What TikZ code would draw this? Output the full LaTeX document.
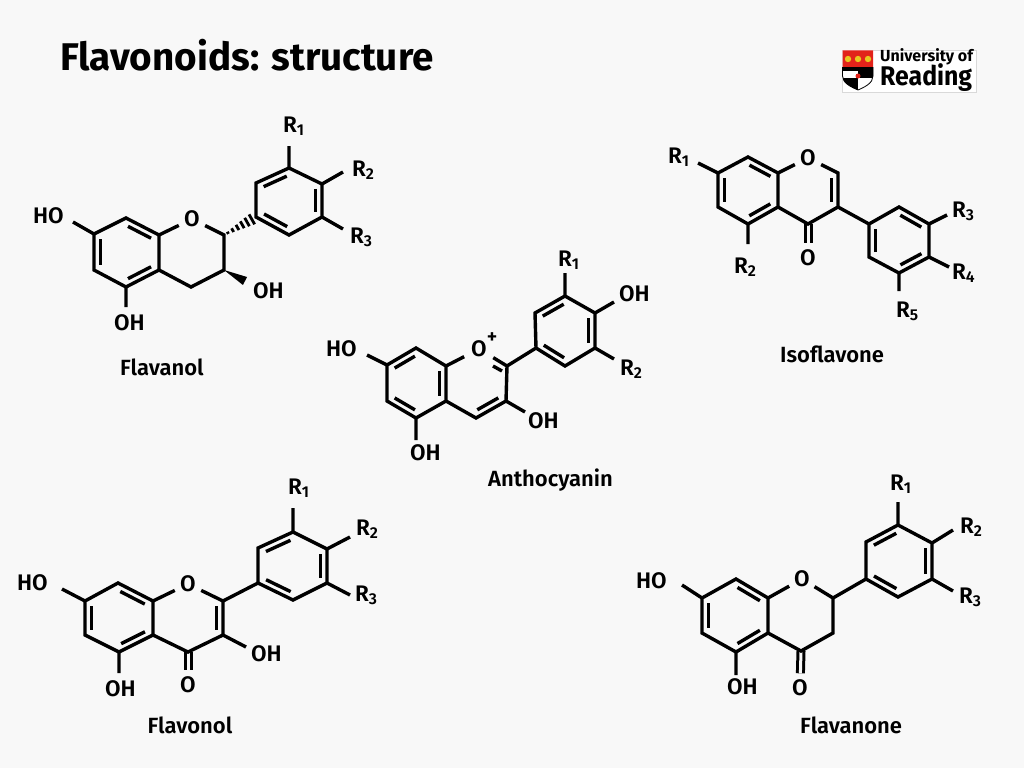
\documentclass[tikz,border=0pt]{standalone}
\usepackage{fontspec}
\setmainfont{Fira Sans}
\newfontfamily\medfont{Fira Sans SemiBold}
\usetikzlibrary{calc}
\definecolor{paper}{HTML}{F8F8F8}
\definecolor{shieldred}{HTML}{E2231A}
\definecolor{shieldgold}{HTML}{E8C820}
\tikzset{
  bond/.style={line width=3.4pt,black},
  dblbond/.style={line width=3pt,black,double=paper,double distance=3pt},
  atom/.style={circle,inner sep=0pt,minimum size=29pt,font=\fontsize{22.5}{22.5}\medfont},
  lab/.style={anchor=base west,inner sep=0pt,xshift=-1.2pt,font=\fontsize{22.5}{22.5}\medfont},
  molname/.style={anchor=base west,inner sep=0pt,font=\fontsize{22}{22}\medfont},
}
% inner line of a double bond, on the right of a -> b as seen on the page
\newcommand{\inbond}[2]{\draw[bond] ($(#1)!.15!(#2)!-6.5pt!90:(#2)$) -- ($(#2)!.15!(#1)!6.5pt!90:(#1)$);}
\newcommand{\Ra}[1]{R\textsubscript{#1}}
\begin{document}
\begin{tikzpicture}[x=1pt,y=-1pt]
  \fill[paper] (0,0) rectangle (1024,768);
  \useasboundingbox (0,0) rectangle (1024,768);

  \node[anchor=base west,inner sep=0pt,font=\fontsize{38.6}{38.6}\selectfont\bfseries] (title) at (60,70.5) {Flavonoids: structure};

  % logo
  \draw[fill=white,draw=black!15,line width=.5pt] (842,50) rectangle (976,92);
  \begin{scope}
    \clip (842.5,50.5) -- (873,50.5) -- (873,76) .. controls (873,83) and (865,87) .. (858,90) .. controls (851,87) and (842.5,83) .. (842.5,76) -- cycle;
    \fill[white] (842,50) rectangle (874,91);
    \fill[shieldred] (842,50) rectangle (874,67);
    \fill[black] (842,67) rectangle (874,71);
    \fill[black] (858,71) rectangle (874,78);
    \fill[black] (842,78) rectangle (858,91);
  \end{scope}
  \draw[black,line width=.8pt] (842.5,67) -- (842.5,76) .. controls (842.5,83) and (851,87) .. (858,90) .. controls (865,87) and (873,83) .. (873,76) -- (873,67);
  \foreach \x in {848,858,868} \fill[shieldgold] (\x,59) circle (3.2pt);
  \fill[shieldred] (858,76) circle (2.5pt);
  \node[anchor=base west,inner sep=0pt,font=\fontsize{16}{16}\selectfont\bfseries] (logoa) at (880,62) {University of};
  \node[anchor=base west,inner sep=0pt,xscale=.92,font=\fontsize{27}{27}\selectfont\bfseries] (logob) at (880,85) {Reading};

  % flavanol
  \foreach \n/\x/\y in {fa7/94/234,fa8/126/218,fa8a/159/235,fa4a/159/270,fa5/126/287,fa6/94/270,
    fa2/224/235,fa3/224/270,fa4/191/287,
    fb1/256/217,fb2/256/183,fb3/289/168,fb4/322/184,fb5/322/217,fb6/289/235,
    fe1/73/222,fe2/126/307,fe3/289/146,fe4/343/172,fe5/343/229,fe6/245/281}
    \coordinate (\n) at (\x,\y);
  \node[atom] (fao) at (192,219) {O};
  \draw[bond] (fa7) -- (fa8) -- (fa8a) -- (fa4a) -- (fa5) -- (fa6) -- cycle;
  \draw[bond] (fa8a) -- (fao) -- (fa2) -- (fa3) -- (fa4) -- (fa4a);
  \draw[bond] (fb1) -- (fb2) -- (fb3) -- (fb4) -- (fb5) -- (fb6) -- cycle;
  \inbond{fa6}{fa7} \inbond{fa8}{fa8a} \inbond{fa4a}{fa5}
  \inbond{fb2}{fb3} \inbond{fb4}{fb5} \inbond{fb6}{fb1}
  \draw[bond] (fa7) -- (fe1) (fa5) -- (fe2) (fb3) -- (fe3) (fb4) -- (fe4) (fb5) -- (fe5);
  % hashed and solid wedge
  \foreach \t/\w in {.12/1.2,.27/2.1,.42/3,.57/3.9,.72/4.8,.87/5.7}
    \draw[line width=2.8pt] ($(fa2)!\t!(fb1)!\w pt!90:(fb1)$) -- ($(fa2)!\t!(fb1)!\w pt!-90:(fb1)$);
  \fill (fa3) -- ($(fe6)!4.5pt!90:(fa3)$) -- ($(fe6)!4.5pt!-90:(fa3)$) -- cycle;
  \node[lab] (fr1) at (284,132) {\Ra{1}};
  \node[lab] (fr2) at (353,176) {\Ra{2}};
  \node[lab] (fr3) at (351,243) {\Ra{3}};
  \node[lab] (fho) at (34,223) {HO};
  \node[lab] (foh1) at (115,330) {OH};
  \node[lab] (foh2) at (254,298) {OH};
  \node[molname] (fname) at (120,375) {Flavanol};

  % anthocyanin
  \foreach \n/\x/\y in {ac7/387/365,ac8/416/348,ac8a/446/366,ac4a/446/401,ac5/416/418,ac6/387/401,
    ac2/507/366,ac3/506/401,ac4/476/418,
    ab1/536/348,ab2/535/313,ab3/565/296,ab4/595/313,ab5/595/348,ab6/565/366,
    ae1/367/355,ae2/416/440,ae3/565/273,ae4/614/302,ae5/614/359,ae6/525/412,
    ad1/493/366,ad2/502/371}
    \coordinate (\n) at (\x,\y);
  \node[atom,minimum size=33pt] (aco) at (479,349) {O};
  \node[lab,anchor=center,xshift=1.2pt,font=\fontsize{20}{20}\medfont] (acp) at (492,338) {+};
  \draw[bond] (ac7) -- (ac8) -- (ac8a) -- (ac4a) -- (ac5) -- (ac6) -- cycle;
  \draw[bond] (ac8a) -- (aco) -- (ac2) -- (ac3) -- (ac4) -- (ac4a);
  \draw[bond] (ab1) -- (ab2) -- (ab3) -- (ab4) -- (ab5) -- (ab6) -- cycle;
  \inbond{ac7}{ac8} \inbond{ac8a}{ac4a} \inbond{ac5}{ac6} \inbond{ac3}{ac4}
  \inbond{ab2}{ab3} \inbond{ab4}{ab5} \inbond{ab6}{ab1}
  \draw[bond] (ad1) -- (ad2);
  \draw[bond] (ac2) -- (ab1) (ac7) -- (ae1) (ac5) -- (ae2) (ab3) -- (ae3) (ab4) -- (ae4) (ab5) -- (ae5) (ac3) -- (ae6);
  \node[lab] (ahoa) at (327,356) {HO};
  \node[lab] (aoh1) at (411,460) {OH};
  \node[lab] (aoh2) at (529,428) {OH};
  \node[lab] (aoh3) at (620,301) {OH};
  \node[lab] (ar1) at (559,266) {\Ra{1}};
  \node[lab] (ar2) at (621,375) {\Ra{2}};
  \node[molname] (aname) at (488,486) {Anthocyanin};

  % isoflavone
  \foreach \n/\x/\y in {ia7/718/173,ia8/748/157,ia8a/778/173,ia4a/778/207,ia5/748/224,ia6/718/207,
    ia2/838/173,ia3/838/207,ia4/808/224,
    ib1/869/224,ib2/899/207,ib3/929/224,ib4/929/257,ib5/899/273,ib6/869/257,
    ie1/698/163,ie2/748/244,ie3/947/215,ie4/949/267,ie5/899/291}
    \coordinate (\n) at (\x,\y);
  \node[atom] (iao) at (808,158) {O};
  \node[atom] (ico) at (808,258) {O};
  \draw[dblbond] (ia4) -- (ico);
  \draw[bond] (ia7) -- (ia8) -- (ia8a) -- (ia4a) -- (ia5) -- (ia6) -- cycle;
  \draw[bond] (ia8a) -- (iao) -- (ia2) -- (ia3) -- (ia4) -- (ia4a);
  \draw[bond] (ib1) -- (ib2) -- (ib3) -- (ib4) -- (ib5) -- (ib6) -- cycle;
  \inbond{ia6}{ia7} \inbond{ia8}{ia8a} \inbond{ia4a}{ia5} \inbond{ia2}{ia3}
  \inbond{ib6}{ib1} \inbond{ib2}{ib3} \inbond{ib4}{ib5}
  \draw[bond] (ia3) -- (ib1) (ia7) -- (ie1) (ia5) -- (ie2) (ib3) -- (ie3) (ib4) -- (ie4) (ib5) -- (ie5);
  \node[lab] (ir1) at (669,163) {\Ra{1}};
  \node[lab] (ir2) at (735,273) {\Ra{2}};
  \node[lab] (ir3) at (953,217) {\Ra{3}};
  \node[lab] (ir4) at (953,279) {\Ra{4}};
  \node[lab] (ir5) at (897,317) {\Ra{5}};
  \node[molname] (iname) at (780,362) {Isoflavone};

  % flavonol
  \foreach \n/\x/\y in {la7/85/601,la8/118/583,la8a/153/601,la4a/153/635,la5/119/652,la6/85/635,
    la2/223/601,la3/223/635,la4/188/652,
    lb1/258/583,lb2/258/548,lb3/293/532,lb4/327/549,lb5/327/583,lb6/293/600,
    le1/62/589,le2/119/673,le3/293/508,le4/350/537,le5/350/595,le6/246/647}
    \coordinate (\n) at (\x,\y);
  \node[atom] (lao) at (188,584) {O};
  \node[atom] (lco) at (188,685) {O};
  \draw[dblbond] (la4) -- (lco);
  \draw[bond] (la7) -- (la8) -- (la8a) -- (la4a) -- (la5) -- (la6) -- cycle;
  \draw[bond] (la8a) -- (lao) -- (la2) -- (la3) -- (la4) -- (la4a);
  \draw[bond] (lb1) -- (lb2) -- (lb3) -- (lb4) -- (lb5) -- (lb6) -- cycle;
  \inbond{la6}{la7} \inbond{la8}{la8a} \inbond{la4a}{la5} \inbond{la2}{la3}
  \inbond{lb2}{lb3} \inbond{lb4}{lb5} \inbond{lb6}{lb1}
  \draw[bond] (la2) -- (lb1) (la7) -- (le1) (la5) -- (le2) (lb3) -- (le3) (lb4) -- (le4) (lb5) -- (le5) (la3) -- (le6);
  \node[lab] (lho) at (18,590) {HO};
  \node[lab] (loh1) at (106,696) {OH};
  \node[lab] (loh2) at (252,661) {OH};
  \node[lab] (lr1) at (289,494) {\Ra{1}};
  \node[lab] (lr2) at (357,535) {\Ra{2}};
  \node[lab] (lr3) at (356,601) {\Ra{3}};
  \node[molname] (lname) at (147.5,733) {Flavonol};

  % flavanone
  \foreach \n/\x/\y in {na7/702/598,na8/736/579,na8a/768/598,na4a/768/633,na5/736/652,na6/702/633,
    na2/833/598,na3/833/633,na4/801/651,
    nb1/866/579,nb2/866/542,nb3/898/525,nb4/932/543,nb5/932/579,nb6/898/597,
    ne1/682/585,ne2/736/675,ne3/898/502,ne4/953/530,ne5/953/591}
    \coordinate (\n) at (\x,\y);
  \node[atom] (nao) at (802,579) {O};
  \node[atom] (nco) at (800,688) {O};
  \draw[dblbond] (na4) -- (nco);
  \draw[bond] (na7) -- (na8) -- (na8a) -- (na4a) -- (na5) -- (na6) -- cycle;
  \draw[bond] (na8a) -- (nao) -- (na2) -- (na3) -- (na4) -- (na4a);
  \draw[bond] (nb1) -- (nb2) -- (nb3) -- (nb4) -- (nb5) -- (nb6) -- cycle;
  \inbond{na6}{na7} \inbond{na8}{na8a} \inbond{na4a}{na5}
  \inbond{nb2}{nb3} \inbond{nb4}{nb5} \inbond{nb6}{nb1}
  \draw[bond] (na2) -- (nb1) (na7) -- (ne1) (na5) -- (ne2) (nb3) -- (ne3) (nb4) -- (ne4) (nb5) -- (ne5);
  \node[lab] (nho) at (637,588) {HO};
  \node[lab] (noh1) at (728,694) {OH};
  \node[lab] (nr1) at (891,490) {\Ra{1}};
  \node[lab] (nr2) at (961,533) {\Ra{2}};
  \node[lab] (nr3) at (960,603) {\Ra{3}};
  \node[molname] (nname) at (800,733) {Flavanone};
\end{tikzpicture}
\end{document}
